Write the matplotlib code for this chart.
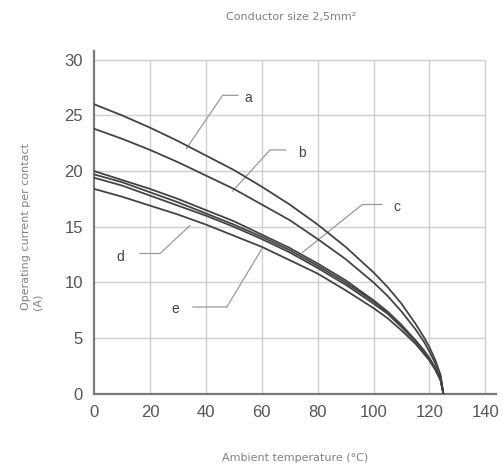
import matplotlib.pyplot as plt

plt.rcParams['font.family'] = ['Liberation Sans Narrow', 'Liberation Sans', 'DejaVu Sans']

# Ambient temperature readings [°C]
temp = [0, 10, 20, 30, 40, 50, 60, 70, 80, 90, 100, 105, 110, 115, 118, 120, 122, 124, 125]

# Operating current per contact [A]
curve_a = [26.0, 25.0, 23.9, 22.7, 21.4, 20.1, 18.6, 17.0, 15.2, 13.2, 10.9, 9.6, 8.1, 6.3, 5.1, 4.2, 3.1, 1.7, 0.0]
curve_b = [23.8, 22.9, 21.9, 20.8, 19.6, 18.4, 17.0, 15.6, 13.9, 12.1, 10.0, 8.8, 7.4, 5.8, 4.7, 3.8, 2.8, 1.6, 0.0]
curve_d = [20.0, 19.2, 18.4, 17.5, 16.5, 15.5, 14.3, 13.1, 11.7, 10.2, 8.4, 7.4, 6.2, 4.8, 3.9, 3.2, 2.4, 1.3, 0.0]
curve_c = [19.7, 19.0, 18.1, 17.2, 16.2, 15.2, 14.1, 12.9, 11.5, 10.0, 8.3, 7.3, 6.1, 4.8, 3.9, 3.2, 2.3, 1.3, 0.0]
curve_x = [19.4, 18.7, 17.8, 16.9, 16.0, 15.0, 13.9, 12.7, 11.3, 9.8, 8.1, 7.2, 6.0, 4.7, 3.8, 3.1, 2.3, 1.3, 0.0]
curve_e = [18.4, 17.7, 16.9, 16.1, 15.2, 14.2, 13.2, 12.0, 10.8, 9.3, 7.7, 6.8, 5.7, 4.5, 3.6, 3.0, 2.2, 1.2, 0.0]
curves = [curve_a, curve_b, curve_d, curve_c, curve_x, curve_e]

x_ticks = [0, 20, 40, 60, 80, 100, 120, 140]
y_ticks = [0, 5, 10, 15, 20, 25, 30]

# curve labels: name, text position, leader line points
labels = [
    ('a', (55.0, 26.6), [(51.5, 26.8), (46.0, 26.8), (33.0, 22.0)]),
    ('b', (74.5, 21.6), [(68.5, 21.9), (63.0, 21.9), (49.6, 18.2)]),
    ('c', (108.3, 16.8), [(103.0, 17.0), (96.0, 17.0), (74.6, 12.7)]),
    ('d', (9.3, 12.3), [(16.4, 12.6), (23.6, 12.6), (34.3, 15.1)]),
    ('e', (29.0, 7.6), [(35.4, 7.8), (47.5, 7.8), (60.0, 13.0)]),
]

fig = plt.figure(figsize=(5.03, 4.70), dpi=100)
ax = fig.add_axes([0.187, 0.162, 0.80, 0.730])

# grid limited to the 0..140 / 0..30 box
ax.hlines(y_ticks[1:], 0, 140, color='#cfcfcf', lw=1.0, zorder=1)
ax.vlines(x_ticks[1:], 0, 30, color='#cfcfcf', lw=1.0, zorder=1)

for c in curves:
    ax.plot(temp, c, color='#444444', lw=1.3, zorder=3)

for name, pos, pts in labels:
    xs = [p[0] for p in pts]
    ys = [p[1] for p in pts]
    ax.plot(xs, ys, color='#9a9a9a', lw=0.9, zorder=2)
    ax.text(pos[0], pos[1], name, fontsize=10, color='#444444', ha='center', va='center')

ax.set_xlim(0, 144)
ax.set_ylim(0, 30.8)
ax.set_xticks(x_ticks)
ax.set_yticks(y_ticks)
ax.tick_params(length=0, labelsize=12, labelcolor='#555555', pad=8)

for s in ['top', 'right']:
    ax.spines[s].set_visible(False)
for s in ['left', 'bottom']:
    ax.spines[s].set_color('#7a7a7a')
    ax.spines[s].set_linewidth(1.6)

lab_font = dict(family='DejaVu Sans', fontsize=8, color='#808080')
fig.text(0.579, 0.964, 'Conductor size 2,5mm²', ha='center', va='center', **lab_font)
fig.text(0.586, 0.026, 'Ambient temperature (°C)', ha='center', va='center', **lab_font)
fig.text(0.064, 0.519, 'Operating current per contact\n(A)', ha='center', va='center',
         rotation=90, multialignment='left', **lab_font)

fig.savefig('out.png', dpi=100)
